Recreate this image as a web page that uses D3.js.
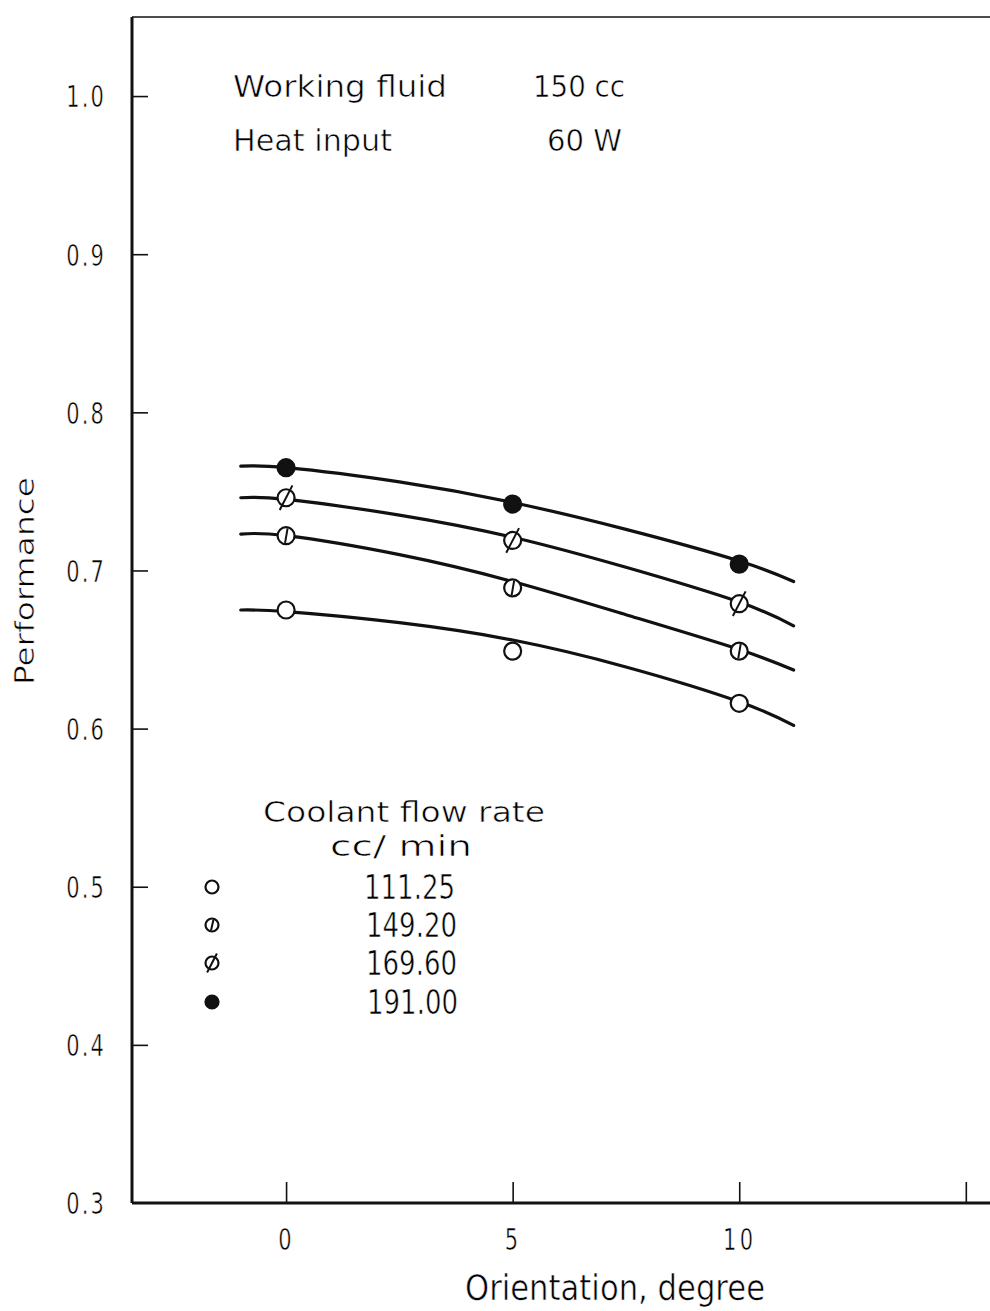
<!DOCTYPE html>
<html>
<head>
<meta charset="utf-8">
<script src="https://cdn.jsdelivr.net/npm/d3@7"></script>
<style>
  html, body { margin: 0; padding: 0; background: #fff; }
  svg { display: block; }
  /* thin pen lettering: a light white outline painted over the fill slims the strokes */
  text { font-family: "DejaVu Sans", sans-serif; fill: #000; stroke: #fff; stroke-width: 0.6px; }
</style>
</head>
<body>
<svg id="chart" width="990" height="1311"></svg>
<script>
// Measured performance at each orientation (degrees)
const orientations = [0, 5, 10];
const flowRates = ["111.25", "149.20", "169.60", "191.00"];
const perf111 = [0.675, 0.649, 0.616];
const perf149 = [0.722, 0.689, 0.649];
const perf169 = [0.746, 0.719, 0.679];
const perf191 = [0.765, 0.742, 0.704];

// Faired trend curves drawn through each data set
const curveX = [-1.0, 0, 2.5, 5, 7.5, 10, 11.2];
const curve111 = [0.675, 0.674, 0.667, 0.656, 0.639, 0.617, 0.602];
const curve149 = [0.723, 0.722, 0.710, 0.693, 0.672, 0.650, 0.637];
const curve169 = [0.746, 0.745, 0.735, 0.721, 0.702, 0.680, 0.665];
const curve191 = [0.766, 0.765, 0.756, 0.743, 0.726, 0.706, 0.693];

const xTicks = [0, 5, 10, 15];
const xTickLabels = ["0", "5", "10", ""];
const yTicks = [0.3, 0.4, 0.5, 0.6, 0.7, 0.8, 0.9, 1.0];

const series = [
  { rate: flowRates[0], values: perf111, curve: curve111, marker: "open" },
  { rate: flowRates[1], values: perf149, curve: curve149, marker: "bar" },
  { rate: flowRates[2], values: perf169, curve: curve169, marker: "slash" },
  { rate: flowRates[3], values: perf191, curve: curve191, marker: "filled" }
];

const svg = d3.select("#chart");
const x = d3.scaleLinear().domain([-3.4, 15.6]).range([132, 993]);
const y = d3.scaleLinear().domain([0.3, 1.05]).range([1203, 17]);
const SX = 0.7; // narrow drafting-style digits

// Text fitted to a given width (drafting lettering is narrow and evenly spaced)
function label(parent, tx, ty, str, size, width, anchor) {
  const t = parent.append("text").attr("x", tx).attr("y", ty).attr("font-size", size)
    .attr("textLength", width).attr("lengthAdjust", "spacingAndGlyphs").text(str);
  if (anchor) t.attr("text-anchor", anchor);
  return t;
}

// Frame: left axis, bottom axis, top rule
svg.append("line").attr("x1", x(-3.4)).attr("x2", x(-3.4)).attr("y1", y(1.05)).attr("y2", y(0.3))
  .attr("stroke", "#111").attr("stroke-width", 3);
svg.append("line").attr("x1", x(-3.4)).attr("x2", 990).attr("y1", y(0.3)).attr("y2", y(0.3))
  .attr("stroke", "#111").attr("stroke-width", 3.2);
svg.append("line").attr("x1", x(-3.4)).attr("x2", 990).attr("y1", y(1.05)).attr("y2", y(1.05))
  .attr("stroke", "#111").attr("stroke-width", 1.6);

// X axis: inward ticks
const xAxis = d3.axisBottom(x).tickValues(xTicks).tickSize(0).tickFormat((d, i) => xTickLabels[i]);
const gx = svg.append("g").attr("transform", `translate(0,${y(0.3)})`).call(xAxis);
gx.select(".domain").remove();
gx.selectAll(".tick text").attr("dy", 0).attr("y", 47).attr("font-size", 30).attr("fill", "#000")
  .attr("letter-spacing", 5).attr("transform", `scale(${SX},1)`)
  .style("font-family", '"DejaVu Sans", sans-serif');
gx.selectAll(".tick").append("line").attr("y1", 0).attr("y2", -21).attr("stroke", "#111").attr("stroke-width", 1.6);

// Y axis: inward ticks
const yAxis = d3.axisLeft(y).tickValues(yTicks).tickSize(0).tickFormat(d3.format(".1f"));
const gy = svg.append("g").attr("transform", `translate(${x(-3.4)},0)`).call(yAxis);
gy.select(".domain").remove();
gy.selectAll(".tick text").attr("x", -26 / SX).attr("dy", "0.36em").attr("font-size", 30).attr("fill", "#000")
  .attr("letter-spacing", 3).attr("transform", `scale(${SX},1)`)
  .style("font-family", '"DejaVu Sans", sans-serif');
gy.selectAll(".tick").filter(d => d > 0.3).append("line").attr("x1", 0).attr("x2", 16)
  .attr("stroke", "#111").attr("stroke-width", 1.6);

// Axis titles
label(svg, 465, 1300, "Orientation, degree", 35, 300);
const yTitle = svg.append("g").attr("transform", "translate(34,685) rotate(-90)");
label(yTitle, 0, 0, "Performance", 27, 208);

// Test conditions
label(svg, 233, 97, "Working  fluid", 30, 214);
label(svg, 533, 97, "150 cc", 30, 92);
label(svg, 233, 151, "Heat  input", 30, 159);
label(svg, 547, 151, "60 W", 30, 75);

// Trend curves
const line = d3.line().x(d => x(d[0])).y(d => y(d[1])).curve(d3.curveNatural);
series.forEach(s => {
  svg.append("path").attr("d", line(curveX.map((cx, i) => [cx, s.curve[i]])))
    .attr("fill", "none").attr("stroke", "#111").attr("stroke-width", 3.2).attr("stroke-linecap", "round");
});

// Marker glyphs
function drawMarker(g, kind, r) {
  g.append("circle").attr("r", r)
    .attr("fill", kind === "filled" ? "#111" : "#fff")
    .attr("stroke", "#111").attr("stroke-width", 2.2);
  if (kind === "bar") {
    g.append("line").attr("x1", 1.5).attr("y1", -r * 0.85).attr("x2", -1).attr("y2", r * 0.85)
      .attr("stroke", "#111").attr("stroke-width", 2);
  } else if (kind === "slash") {
    g.append("line").attr("x1", -r * 0.75).attr("y1", r * 1.45).attr("x2", r * 0.75).attr("y2", -r * 1.45)
      .attr("stroke", "#111").attr("stroke-width", 2);
  }
}

series.forEach(s => {
  s.values.forEach((v, i) => {
    const g = svg.append("g").attr("transform", `translate(${x(orientations[i])},${y(v)})`);
    drawMarker(g, s.marker, 8.5);
  });
});

// Legend
const legend = svg.append("g");
label(legend, 263, 822, "Coolant  flow  rate", 29, 282);
label(legend, 330, 856, "cc/ min", 29, 142);
const legendY = [887, 925, 963, 1002];
const legendTextX = [364, 366, 366, 367];
series.forEach((s, i) => {
  const g = legend.append("g").attr("transform", `translate(212,${legendY[i]})`);
  drawMarker(g, s.marker, 6.5);
  label(legend, legendTextX[i], legendY[i] + 12, s.rate, 33, 91);
});
</script>
</body>
</html>
